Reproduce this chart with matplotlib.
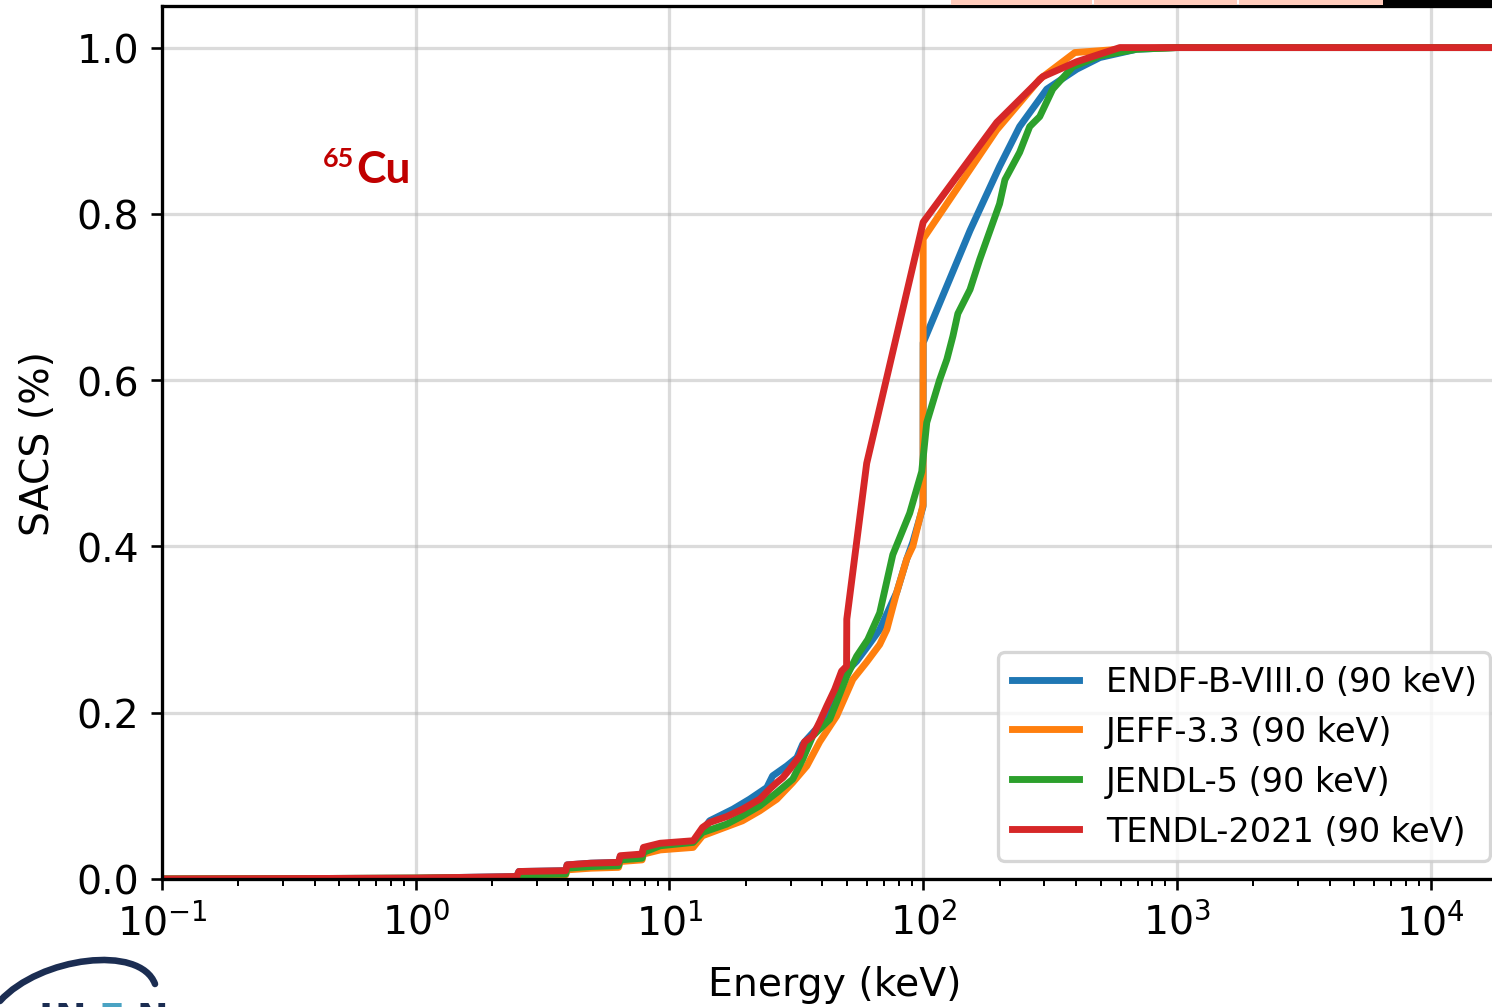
import matplotlib
matplotlib.use("Agg")
import matplotlib.pyplot as plt
from matplotlib.patches import Rectangle, PathPatch
from matplotlib.path import Path

# cumulative SACS fraction vs energy (keV)
endf_e = [0.1, 1.0, 2.5, 2.55, 3.9, 3.95, 4.9, 6.3, 6.4, 7.8, 7.9, 9.2, 12.4, 13.5,
          14.4, 17.8, 20.7, 24.2, 25.5, 29.0, 31.8, 33.5, 34.8, 39.1, 42.8, 45.6,
          50.0, 54.7, 60.5, 67.4, 78.7, 86.2, 91.0, 99.9, 100.0, 153, 200, 240, 307,
          403, 497, 695, 1000, 20000]
endf_y = [0.0, 0.001, 0.003, 0.009, 0.010, 0.017, 0.019, 0.020, 0.027, 0.029, 0.037,
          0.041, 0.044, 0.058, 0.070, 0.084, 0.096, 0.110, 0.124, 0.136, 0.146,
          0.162, 0.168, 0.185, 0.200, 0.220, 0.250, 0.262, 0.280, 0.300, 0.345,
          0.385, 0.405, 0.448, 0.645, 0.780, 0.857, 0.905, 0.950, 0.974, 0.988,
          0.998, 1.0, 1.0]

jeff_e = [0.1, 1.0, 2.5, 2.55, 3.9, 3.95, 4.9, 6.3, 6.4, 7.8, 7.9, 9.2, 12.4, 13.5,
          19.4, 22.7, 26.5, 30.6, 34.8, 39.1, 45.6, 52.8, 59.9, 67.4, 71.9, 78.7,
          86.2, 91.0, 99.9, 100.0, 195, 288, 396, 596, 1000, 20000]
jeff_y = [0.0, 0.001, 0.002, 0.004, 0.005, 0.011, 0.013, 0.014, 0.021, 0.023, 0.030,
          0.035, 0.038, 0.052, 0.070, 0.082, 0.096, 0.116, 0.136, 0.165, 0.196,
          0.240, 0.261, 0.282, 0.300, 0.345, 0.385, 0.400, 0.450, 0.770, 0.901,
          0.962, 0.994, 0.998, 1.0, 1.0]

jendl_e = [0.1, 1.0, 2.5, 2.55, 3.9, 3.95, 4.9, 6.3, 6.4, 7.8, 7.9, 9.2, 12.4, 13.5,
           16.8, 19.4, 22.7, 26.5, 30.6, 33.5, 36.7, 42.8, 45.6, 50.0, 54.7, 60.5,
           67.4, 75.9, 88.5, 98.7, 103.3, 116, 124, 131, 137, 153, 167, 200, 210,
           240, 263, 288, 324, 389, 497, 695, 1000, 20000]
jendl_y = [0.0, 0.001, 0.002, 0.005, 0.006, 0.013, 0.015, 0.016, 0.023, 0.025, 0.032,
           0.040, 0.044, 0.056, 0.066, 0.076, 0.088, 0.104, 0.120, 0.144, 0.172,
           0.192, 0.213, 0.244, 0.268, 0.288, 0.320, 0.390, 0.440, 0.490, 0.549,
           0.600, 0.625, 0.653, 0.680, 0.709, 0.745, 0.812, 0.841, 0.874, 0.905,
           0.917, 0.950, 0.977, 0.990, 0.998, 1.0, 1.0]

tendl_e = [0.1, 1.0, 2.5, 2.55, 3.9, 3.95, 4.9, 6.3, 6.4, 7.8, 7.9, 9.2, 12.4, 13.5,
           14.4, 16.8, 19.4, 22.7, 24.8, 26.5, 28.0, 29.8, 32.6, 34.1, 36.7, 39.1,
           41.7, 44.8, 47.7, 49.9, 50.0, 59.9, 100, 195, 296, 403, 596, 1000, 20000]
tendl_y = [0.0, 0.001, 0.003, 0.009, 0.010, 0.017, 0.019, 0.020, 0.028, 0.030, 0.038,
           0.043, 0.046, 0.062, 0.068, 0.075, 0.084, 0.096, 0.108, 0.116, 0.122,
           0.132, 0.148, 0.165, 0.172, 0.189, 0.208, 0.228, 0.250, 0.256, 0.3125,
           0.500, 0.790, 0.910, 0.965, 0.983, 1.0, 1.0, 1.0]

series = [
    ("ENDF-B-VIII.0 (90 keV)", endf_e, endf_y, "tab:blue"),
    ("JEFF-3.3 (90 keV)", jeff_e, jeff_y, "tab:orange"),
    ("JENDL-5 (90 keV)", jendl_e, jendl_y, "tab:green"),
    ("TENDL-2021 (90 keV)", tendl_e, tendl_y, "tab:red"),
]

W, H = 1492, 1008
plt.rcParams['font.size'] = 12
fig = plt.figure(figsize=(W / 236.4, H / 236.4), dpi=236.4)
# axes runs past the right edge of the figure, as in the cropped original
ax = fig.add_axes([162 / W, 1 - 880 / H, (1507 - 162) / W, 873 / H])

for label, e, y, c in series:
    ax.plot(e, y, color=c, lw=2.1, label=label)

ax.set_xscale('log')
ax.set_xlim(0.1, 2e4)
ax.set_ylim(0, 1.05)
ax.set_yticks([0.0, 0.2, 0.4, 0.6, 0.8, 1.0])
ax.grid(True, which='major', color='#b0b0b0', alpha=0.45, lw=1.0)
ax.set_axisbelow(True)
ax.set_xlabel("Energy (keV)", labelpad=7)
ax.set_ylabel("SACS (%)", labelpad=6)
for s in ax.spines.values():
    s.set_linewidth(1.0)

ax.legend(loc='lower right', bbox_to_anchor=(0.9874, 0.0206), borderaxespad=0,
          fontsize=10.2)

# isotope tag
fig.text(323 / W, 1 - 167 / H, "65", color='#c00000', fontsize=8.2,
         fontweight='bold', family='Lato')
fig.text(356 / W, 1 - 183 / H, "Cu", color='#c00000', fontsize=13.5,
         fontweight='bold', family='Lato')

# slide leftovers: header bars and logo
for x0, x1 in [(951, 1092), (1094, 1237), (1239, 1383)]:
    fig.add_artist(Rectangle((x0 / W, 1 - 5.5 / H), (x1 - x0) / W, 5.5 / H,
                             transform=fig.transFigure, color='#ffcbbb', lw=0))
fig.add_artist(Rectangle((1383 / W, 1 - 8 / H), 109 / W, 8 / H,
                         transform=fig.transFigure, color='black', lw=0))

arc = Path([(0 / W, 1 - 1002 / H), (40 / W, 1 - 958 / H),
            (140 / W, 1 - 945 / H), (155 / W, 1 - 985 / H)],
           [Path.MOVETO, Path.CURVE4, Path.CURVE4, Path.CURVE4])
fig.add_artist(PathPatch(arc, transform=fig.transFigure, fill=False,
                         edgecolor='#1b2d52', lw=2.0, capstyle='round'))
for ch, px, col in [("I", 38, '#1b2d52'), ("N", 55, '#1b2d52'),
                    ("F", 99, '#4aa3c3'), ("N", 136, '#1b2d52')]:
    fig.text(px / W, 1 - 1030 / H, ch, color=col, fontsize=11.5,
             fontweight='bold', family='DejaVu Sans')

fig.savefig("out.png", dpi=236.4)
